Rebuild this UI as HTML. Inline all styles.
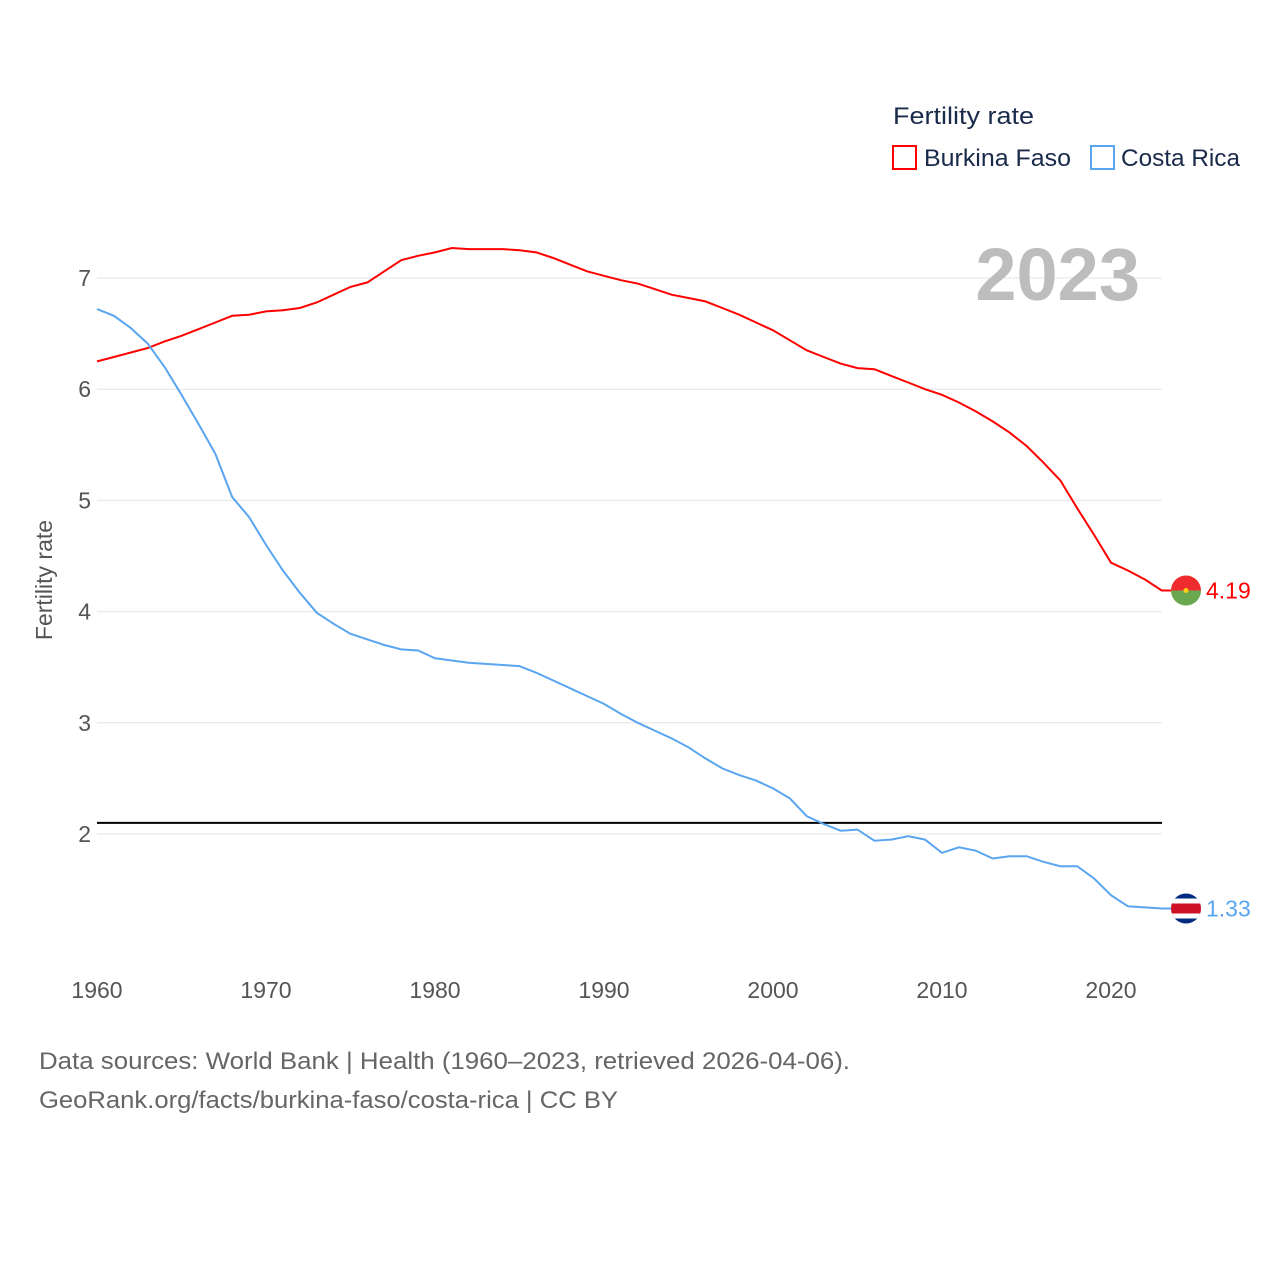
<!DOCTYPE html>
<html><head><meta charset="utf-8">
<style>
body{margin:0;background:#fff;font-family:"Liberation Sans",sans-serif;}
svg text{font-family:"Liberation Sans",sans-serif;}
</style></head>
<body>
<svg width="1280" height="1280" viewBox="0 0 1280 1280">
<g id="grid"></g>
<g id="yticks"></g>
<g id="xticks"></g>
<text x="52" y="580" transform="rotate(-90 52 580)" text-anchor="middle" font-size="23" fill="#555">Fertility rate</text>
<text x="1140" y="300" text-anchor="end" font-size="74" font-weight="bold" fill="#bdbdbd">2023</text>
<line id="refline" x1="97" x2="1162" stroke="#000" stroke-width="2"/>
<g id="series"></g>
<text x="893" y="124" font-size="24" fill="#1a2a4a" textLength="141" lengthAdjust="spacingAndGlyphs">Fertility rate</text>
<g>
<rect x="893" y="146" width="23" height="23" fill="none" stroke="#f00" stroke-width="2"/>
<text x="924" y="166" font-size="24" fill="#1a2a4a" textLength="147" lengthAdjust="spacingAndGlyphs">Burkina Faso</text></g>
<g>
<rect x="1091" y="146" width="23" height="23" fill="none" stroke="#5aa5f0" stroke-width="2"/>
<text x="1121" y="166" font-size="24" fill="#1a2a4a" textLength="119" lengthAdjust="spacingAndGlyphs">Costa Rica</text></g>
<text x="39" y="1069" font-size="24" fill="#666" textLength="811" lengthAdjust="spacingAndGlyphs">Data sources: World Bank | Health (1960–2023, retrieved 2026-04-06).</text>
<text x="39" y="1108" font-size="24" fill="#666" textLength="579" lengthAdjust="spacingAndGlyphs">GeoRank.org/facts/burkina-faso/costa-rica | CC BY</text>
</svg>
<script>
const years=[];for(let y=1960;y<=2023;y++)years.push(y);
const burkina=[6.25,6.29,6.33,6.37,6.43,6.48,6.54,6.60,6.66,6.67,6.70,6.71,6.73,6.78,6.85,6.92,6.96,7.06,7.16,7.20,7.23,7.27,7.26,7.26,7.26,7.25,7.23,7.18,7.12,7.06,7.02,6.98,6.95,6.90,6.85,6.82,6.79,6.73,6.67,6.60,6.53,6.44,6.35,6.29,6.23,6.19,6.18,6.12,6.06,6.00,5.95,5.88,5.80,5.71,5.61,5.49,5.34,5.18,4.93,4.69,4.44,4.37,4.29,4.19];
const costa=[6.72,6.66,6.55,6.41,6.20,5.95,5.69,5.42,5.03,4.85,4.60,4.37,4.17,3.99,3.89,3.80,3.75,3.70,3.66,3.65,3.58,3.56,3.54,3.53,3.52,3.51,3.45,3.38,3.31,3.24,3.17,3.08,3.00,2.93,2.86,2.78,2.68,2.59,2.53,2.48,2.41,2.32,2.16,2.09,2.03,2.04,1.94,1.95,1.98,1.95,1.83,1.88,1.85,1.78,1.80,1.80,1.75,1.71,1.71,1.60,1.45,1.35,1.34,1.33];
const yTicks=[2,3,4,5,6,7];
const xTicks=[1960,1970,1980,1990,2000,2010,2020];
const refValue=2.1;
const X=y=>97+(y-1960)*16.9;
const Y=v=>834-(v-2)*111.2;
const NS="http://www.w3.org/2000/svg";
function mk(t,a,p){const e=document.createElementNS(NS,t);for(const k in a)e.setAttribute(k,a[k]);p.appendChild(e);return e;}
const grid=document.getElementById('grid'),yt=document.getElementById('yticks'),xt=document.getElementById('xticks');
yTicks.forEach(v=>{
 const l=mk('line',{x1:97,x2:1162,y1:Y(v),y2:Y(v),stroke:'#e6e6e6','stroke-width':1},grid);
 
 
 const t=mk('text',{x:91,y:Y(v)+8,'text-anchor':'end','font-size':23,fill:'#555'},yt);t.textContent=v;
 
 
});
xTicks.forEach(v=>{
 const t=mk('text',{x:X(v),y:998,'text-anchor':'middle','font-size':23,fill:'#555'},xt);t.textContent=v;
 
 
});
const rl=document.getElementById('refline');rl.setAttribute('y1',Y(refValue));rl.setAttribute('y2',Y(refValue));
const sg=document.getElementById('series');
function line(data,color,name){
 const last=data[data.length-1];
 const d=data.map((v,i)=>(i?'L':'M')+X(years[i]).toFixed(1)+','+Y(v).toFixed(1)).join('')+'L1180,'+Y(last).toFixed(1);
 const p=mk('path',{d:d,fill:'none',stroke:color,'stroke-width':2},sg);
 
 
 const t=mk('text',{x:1206,y:Y(last)+8,'font-size':23,fill:color},sg);t.textContent=last.toFixed(2);
 
 
 return Y(last);
}
const by=line(burkina,'#f00','line-burkina-faso');
const cy=line(costa,'#5aa5f0','line-costa-rica');
let f=mk('g',{},sg);


const cp1=mk('clipPath',{id:'c1'},f);mk('circle',{cx:1186,cy:by,r:15},cp1);
mk('rect',{x:1171,y:by-15,width:30,height:15,fill:'#ef2b2d','clip-path':'url(#c1)'},f);
mk('rect',{x:1171,y:by,width:30,height:15,fill:'#6aa84f','clip-path':'url(#c1)'},f);
mk('circle',{cx:1186,cy:by,r:2.5,fill:'#fcd116'},f);
let g=mk('g',{},sg);


const cp=mk('clipPath',{id:'c2'},g);mk('circle',{cx:1186,cy:cy,r:15},cp);
mk('rect',{x:1171,y:cy-15,width:30,height:30,fill:'#002b7f','clip-path':'url(#c2)'},g);
mk('rect',{x:1171,y:cy-10,width:30,height:20,fill:'#fff','clip-path':'url(#c2)'},g);
mk('rect',{x:1171,y:cy-5,width:30,height:10,fill:'#ce1126','clip-path':'url(#c2)'},g);
</script>
</body></html>
